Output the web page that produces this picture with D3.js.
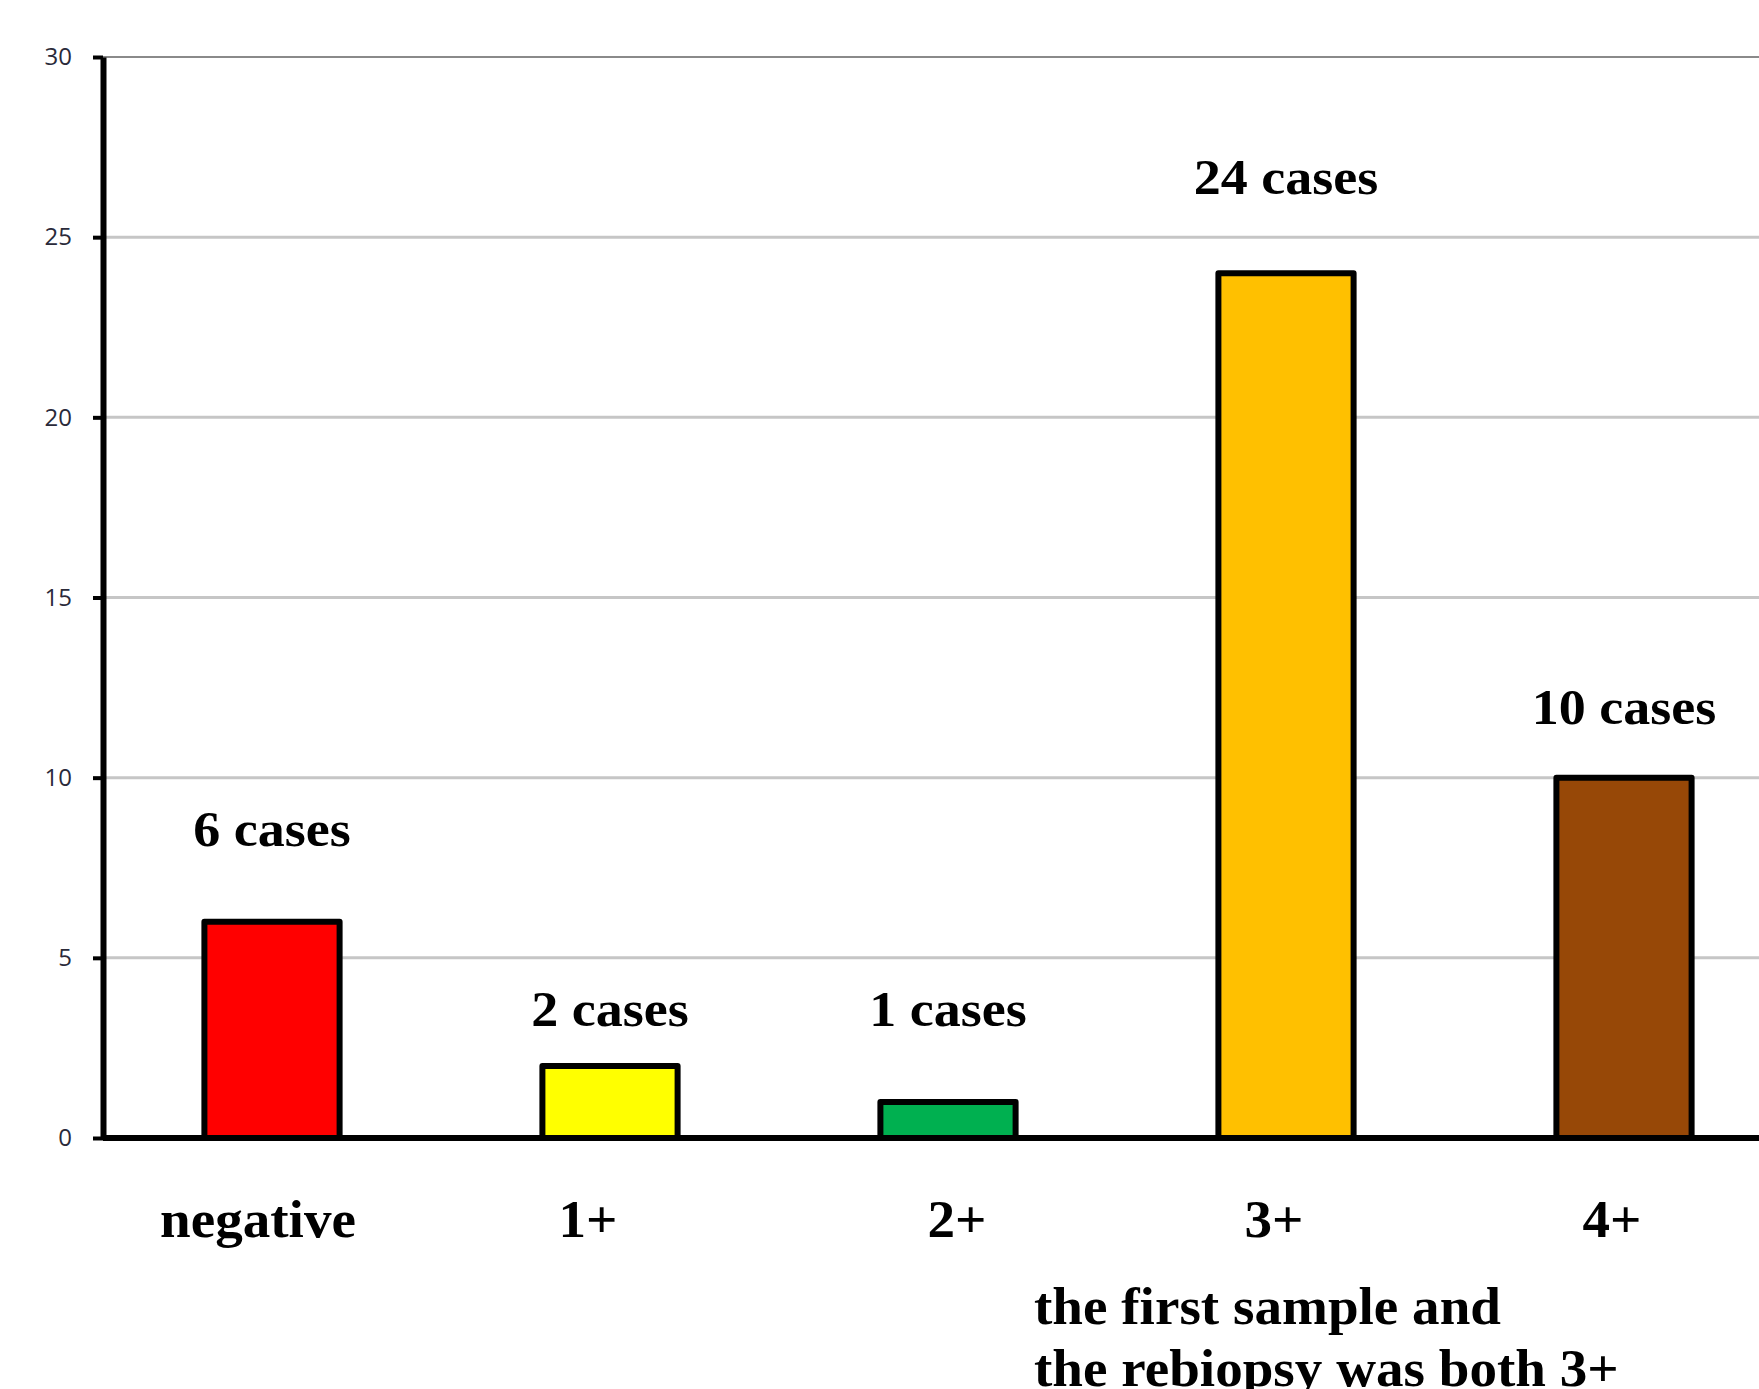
<!DOCTYPE html>
<html>
<head>
<meta charset="utf-8">
<script src="https://cdn.jsdelivr.net/npm/d3@7"></script>
<style>
  html, body { margin: 0; padding: 0; background: #ffffff; overflow: hidden; }
  svg { display: block; }
</style>
</head>
<body>
<svg id="chart" width="1759" height="1389"></svg>
<script>
// ---- data ----
const categories = ["negative", "1+", "2+", "3+", "4+"];
const values = [6, 2, 1, 24, 10];
const valueLabels = ["6 cases", "2 cases", "1 cases", "24 cases", "10 cases"];
const labelAnchors = [8.1, 3.1, 3.1, 26.2, 11.5]; // label baselines in data units
const barColors = ["#ff0000", "#ffff00", "#00b050", "#ffc000", "#974807"];
const yTicks = [0, 5, 10, 15, 20, 25, 30];
const noteLines = ["the first sample and", "the rebiopsy was both 3+"];

// ---- layout ----
const W = 1759, H = 1389;
const x0 = 103, y0 = 1138, yTop = 57;
const step = 338;
const catLabelShift = [-14, -22, 9, -12, -12];

const svg = d3.select("#chart");

const x = d3.scaleBand()
  .domain(categories)
  .range([x0, x0 + step * categories.length])
  .paddingInner(0.6)
  .paddingOuter(0.3);

const y = d3.scaleLinear().domain([0, 30]).range([y0, yTop]);

// gridlines
svg.append("g")
  .selectAll("line")
  .data(yTicks.filter(d => d > 0))
  .join("line")
  .attr("x1", x0)
  .attr("x2", W)
  .attr("y1", d => y(d))
  .attr("y2", d => y(d))
  .attr("stroke", d => d === 30 ? "#8a8a8a" : "#c6c6c6")
  .attr("stroke-width", d => d === 30 ? 2 : 3);

// bars
svg.append("g")
  .selectAll("rect")
  .data(values)
  .join("rect")
  .attr("x", (d, i) => x(categories[i]))
  .attr("width", x.bandwidth())
  .attr("y", d => y(d))
  .attr("height", d => y0 - y(d))
  .attr("fill", (d, i) => barColors[i])
  .attr("stroke", "#000")
  .attr("stroke-width", 6)
  .attr("stroke-linejoin", "round");

// y axis
const yAxis = d3.axisLeft(y)
  .tickValues(yTicks)
  .tickSize(10)
  .tickPadding(21)
  .tickSizeOuter(0);

const gy = svg.append("g")
  .attr("transform", `translate(${x0},0)`)
  .call(yAxis);
gy.select(".domain").attr("stroke", "#000").attr("stroke-width", 6);
gy.selectAll(".tick line").attr("stroke", "#000").attr("stroke-width", 4);
gy.selectAll(".tick text")
  .attr("fill", "#2a2a3a")
  .style("font-family", "'Open Sans', 'DejaVu Sans', sans-serif")
  .style("font-size", "24px");

// x axis baseline
svg.append("line")
  .attr("x1", x0)
  .attr("x2", W)
  .attr("y1", y0)
  .attr("y2", y0)
  .attr("stroke", "#000")
  .attr("stroke-width", 6);

const serif = "'Liberation Serif', 'Times New Roman', serif";

// value labels
svg.append("g")
  .selectAll("g")
  .data(valueLabels)
  .join("g")
  .attr("transform", (d, i) => `translate(${x(categories[i]) + x.bandwidth() / 2},${y(labelAnchors[i])}) scale(1.06,1)`)
  .append("text")
  .attr("text-anchor", "middle")
  .style("font-family", serif)
  .style("font-weight", "bold")
  .style("font-size", "51px")
  .attr("fill", "#000")
  .text(d => d);

// category labels
svg.append("g")
  .selectAll("g")
  .data(categories)
  .join("g")
  .attr("transform", (d, i) => `translate(${x(d) + x.bandwidth() / 2 + catLabelShift[i]},${y0 + 99}) scale(1.06,1)`)
  .append("text")
  .attr("text-anchor", "middle")
  .style("font-family", serif)
  .style("font-weight", "bold")
  .style("font-size", "52px")
  .attr("fill", "#000")
  .text(d => d);

// note under 3+
svg.append("g")
  .selectAll("g")
  .data(noteLines)
  .join("g")
  .attr("transform", (d, i) => `translate(1034,${1324 + i * 62}) scale(1.06,1)`)
  .append("text")
  .attr("text-anchor", "start")
  .style("font-family", serif)
  .style("font-weight", "bold")
  .style("font-size", "52px")
  .attr("fill", "#000")
  .text(d => d);
</script>
</body>
</html>
